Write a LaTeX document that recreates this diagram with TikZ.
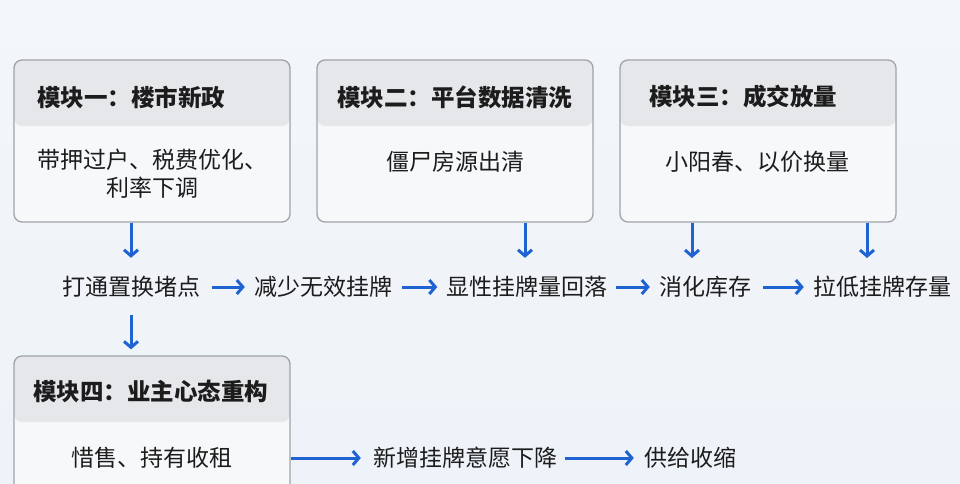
\documentclass[tikz,border=0pt]{standalone}
\usepackage{fontspec}
\setmainfont{Noto Sans CJK SC}
\usetikzlibrary{arrows.meta,calc}
\definecolor{bgtop}{HTML}{F3F6FA}
\definecolor{bgbot}{HTML}{EEF3F9}
\definecolor{hdr}{HTML}{E5E7EA}
\definecolor{bodyc}{HTML}{F6F8FA}
\definecolor{edge}{HTML}{A0A4A9}
\definecolor{ink}{HTML}{1C1C1C}
\definecolor{flow}{HTML}{1F63D2}
\tikzset{
  box/.style={draw=edge, line width=1.3pt, fill=bodyc, rounded corners=8pt,
    minimum width=276pt, inner sep=0pt,
    path picture={\fill[hdr] (path picture bounding box.north west) rectangle ([yshift=-66pt]path picture bounding box.north east);}},
  hdrtext/.style={anchor=west, inner sep=0pt, text=ink, font=\fontsize{23.5}{28}\selectfont\bfseries},
  bodytext/.style={inner sep=0pt, text=ink, align=center, font=\fontsize{23}{28}\selectfont},
  flowtext/.style={inner sep=0pt, minimum height=26pt, text=ink, font=\fontsize{23}{28}\selectfont},
  arr/.style={draw=flow, line width=3pt, -{Straight Barb[length=6pt,width=14pt]}},
}
\begin{document}
\begin{tikzpicture}[x=1pt,y=-1pt]
\useasboundingbox (0,0) rectangle (960,483);
\shade[top color=bgtop, bottom color=bgbot] (0,0) rectangle (960,483);
\clip (0,0) rectangle (960,483);
% boxes
\node[box, minimum height=162pt] (b1) at (152,141) {};
\node[box, minimum height=162pt] (b2) at (455,141) {};
\node[box, minimum height=162pt] (b3) at (758,141) {};
\node[box, minimum height=160pt] (b4) at (152,436) {};
% headers
\node[hdrtext] (h1) at (37,97) {模块一：楼市新政};
\node[hdrtext] (h2) at (337,97) {模块二：平台数据清洗};
\node[hdrtext] (h3) at (649,97) {模块三：成交放量};
\node[hdrtext] (h4) at (33,391) {模块四：业主心态重构};
% bodies
\node[bodytext] (d1) at (152,174) {带押过户、税费优化、\\利率下调};
\node[bodytext] (d2) at (455,162) {僵尸房源出清};
\node[bodytext] (d3) at (757,162) {小阳春、以价换量};
\node[bodytext] (d4) at (152,458) {惜售、持有收租};
% flow row
\node[flowtext] (t1) at (131,287) {打通置换堵点};
\node[flowtext] (t2) at (323,287) {减少无效挂牌};
\node[flowtext] (t3) at (527,287) {显性挂牌量回落};
\node[flowtext] (t4) at (705,287) {消化库存};
\node[flowtext] (t5) at (882,287) {拉低挂牌存量};
\node[flowtext] (u1) at (465,458) {新增挂牌意愿下降};
\node[flowtext] (u2) at (690,458) {供给收缩};
\coordinate (c3a) at (692,258);
\coordinate (c3b) at (867,258);
% vertical arrows
\draw[arr, shorten >=16pt] (b1.south -| t1) -- (t1.north);
\draw[arr, shorten >=16pt] (b2.south -| 525,0) -- (t3.north -| 525,0);
\draw[arr] (b3.south -| c3a) -- (c3a);
\draw[arr] (b3.south -| c3b) -- (c3b);
\draw[arr, shorten <=15pt, shorten >=6pt] (t1.south) -- (b4.north -| t1);
% horizontal arrows
\draw[arr, shorten <=12pt, shorten >=9pt] (t1.east) -- (t2.west);
\draw[arr, shorten <=10pt, shorten >=9pt] (t2.east) -- (t3.west);
\draw[arr, shorten <=8pt, shorten >=9pt] (t3.east) -- (t4.west);
\draw[arr, shorten <=12pt, shorten >=9pt] (t4.east) -- (t5.west);
\draw[arr, shorten >=12pt] (b4.east |- u1) -- (u1.west);
\draw[arr, shorten <=8pt, shorten >=10pt] (u1.east) -- (u2.west);
\end{tikzpicture}
\end{document}
